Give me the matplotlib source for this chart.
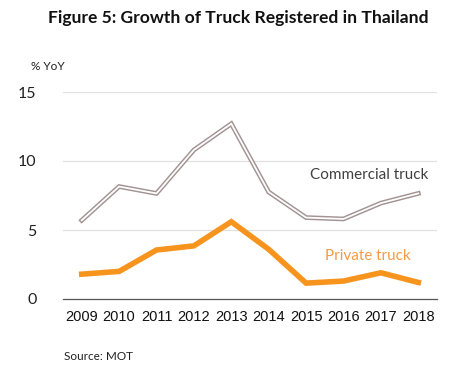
import matplotlib
matplotlib.use("Agg")
import matplotlib.pyplot as plt

years = ["2009", "2010", "2011", "2012", "2013", "2014", "2015", "2016", "2017", "2018"]
commercial = [5.7, 8.15, 7.65, 10.8, 12.7, 7.75, 5.9, 5.8, 6.95, 7.65]
private = [1.8, 2.0, 3.55, 3.85, 5.6, 3.6, 1.15, 1.3, 1.9, 1.2]
yticks = [0, 5, 10, 15]

fig = plt.figure(figsize=(4.64, 3.72), dpi=100)
ax = fig.add_axes([63/464, 1-299/372, 374/464, 207/372])
x = list(range(len(years)))
ax.plot(x, commercial, color="#a39393", lw=3.4, solid_joinstyle="miter", zorder=3)
ax.plot(x, commercial, color="white", lw=1.3, solid_joinstyle="miter", zorder=4)
ax.plot(x, private, color="#f7941d", lw=4.0, solid_joinstyle="miter", zorder=3)

ax.set_xlim(-0.5, len(years)-0.5)
ax.set_ylim(0, 15)
ax.set_yticks(yticks)
ax.set_yticklabels([str(v) for v in yticks], family="Lato", fontsize=11.5, color="#222222")
ax.set_xticks(x)
ax.set_xticklabels(years, family="Liberation Sans", fontsize=10.5, color="#111111")
ax.tick_params(length=0)
ax.tick_params(axis="x", pad=8)
ax.tick_params(axis="y", pad=19)
for v in yticks[1:]:
    ax.axhline(v, color="#e0e0e0", lw=0.9, zorder=1)
for s in ["top", "right", "left"]:
    ax.spines[s].set_visible(False)
ax.spines["bottom"].set_color("#555555")
ax.spines["bottom"].set_linewidth(0.9)

ax.text(7.7, 9.0, "Commercial truck", family="Lato", fontsize=11, color="#404040", ha="center", va="center")
ax.text(7.65, 3.1, "Private truck", family="Lato", fontsize=11, color="#f39c45", ha="center", va="center")

fig.text(238/464, 1-18/372, "Figure 5: Growth of Truck Registered in Thailand", family="Lato", fontweight="bold",
         fontsize=12.6, ha="center", va="center", color="#111111")
fig.text(31/464, 1-66/372, "% YoY", family="Lato", fontsize=8.5, ha="left", va="center", color="#222222")
fig.text(64/464, 1-357/372, "Source: MOT", family="Lato", fontsize=8.5, ha="left", va="center", color="#222222")

fig.savefig("out.png", dpi=100)
